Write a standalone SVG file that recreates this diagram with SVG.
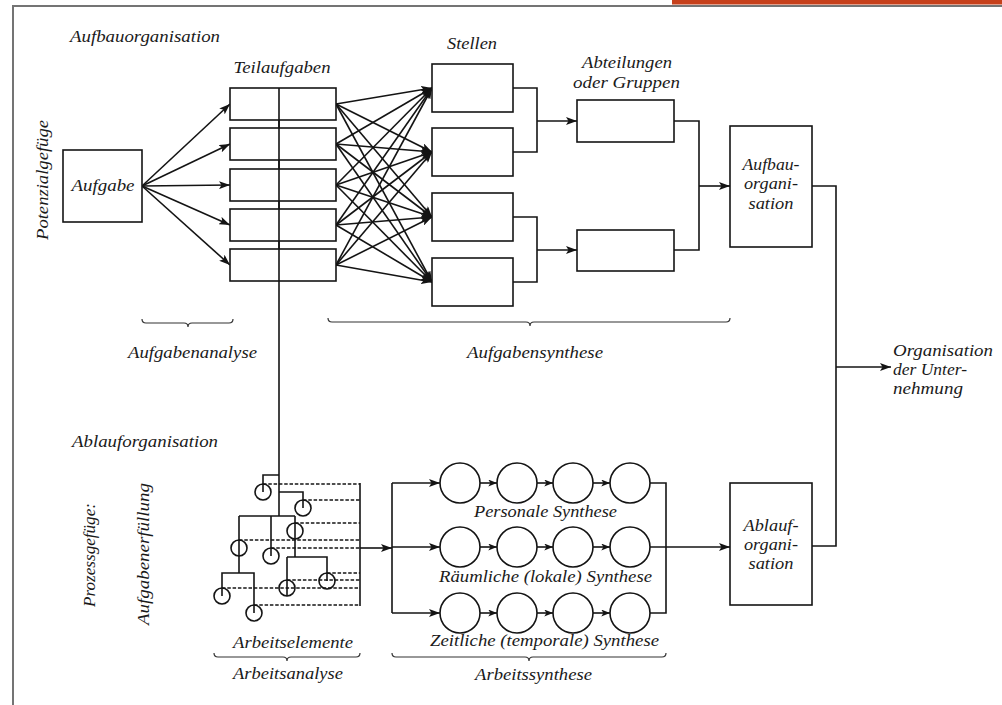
<svg xmlns="http://www.w3.org/2000/svg" width="1002" height="705" viewBox="0 0 1002 705">
<defs>
<style>
.ln{fill:none;stroke:#141414;stroke-width:1.6}
.bx{fill:#fff;stroke:#141414;stroke-width:1.6}
.ci{fill:none;stroke:#141414;stroke-width:1.6}
.ds{fill:none;stroke:#141414;stroke-width:1.5;stroke-dasharray:3.5 1.8}
.br{fill:none;stroke:#333;stroke-width:1.2}
.t{font-family:'Liberation Serif','DejaVu Serif',serif;font-style:italic;font-size:17px;fill:#1a1a1a}
.m{text-anchor:middle}
.ar{marker-end:url(#ah)}
.as{marker-end:url(#ahs)}
</style>
<marker id="ah" viewBox="0 0 11 8" refX="11" refY="4" markerWidth="11" markerHeight="8" markerUnits="userSpaceOnUse" orient="auto">
<path d="M0,0 L11,4 L0,8 L2.5,4 z" fill="#141414"/>
</marker>
<marker id="ahs" viewBox="0 0 10 8" refX="10" refY="4" markerWidth="9" markerHeight="7" markerUnits="userSpaceOnUse" orient="auto">
<path d="M0,0 L10,4 L0,8 L2.5,4 z" fill="#141414"/>
</marker>
</defs>
<rect width="1002" height="705" fill="#fff"/>
<g id="frame">
<rect x="672" y="0" width="330" height="4.5" fill="#C6401B"/>
<line x1="13" y1="6" x2="1002" y2="6" stroke="#747474" stroke-width="2"/>
<line x1="13" y1="5" x2="13" y2="705" stroke="#747474" stroke-width="2"/>
</g>
<g id="section-labels">
<text class="t" x="70" y="42" textLength="150" lengthAdjust="spacingAndGlyphs">Aufbauorganisation</text>
<text class="t" x="72" y="447" textLength="146" lengthAdjust="spacingAndGlyphs">Ablauforganisation</text>
<text class="t m" transform="translate(48,180) rotate(-90)" textLength="120" lengthAdjust="spacingAndGlyphs">Potenzialgefüge</text>
<text class="t m" transform="translate(95,555) rotate(-90)" textLength="104" lengthAdjust="spacingAndGlyphs">Prozessgefüge:</text>
<text class="t m" transform="translate(149,554) rotate(-90)" textLength="142" lengthAdjust="spacingAndGlyphs">Aufgabenerfüllung</text>
<text class="t m" x="282" y="73" textLength="97" lengthAdjust="spacingAndGlyphs">Teilaufgaben</text>
<text class="t m" x="472" y="49" textLength="50" lengthAdjust="spacingAndGlyphs">Stellen</text>
<text class="t m" x="627" y="68" textLength="90" lengthAdjust="spacingAndGlyphs">Abteilungen</text>
<text class="t m" x="626.5" y="88" textLength="107" lengthAdjust="spacingAndGlyphs">oder Gruppen</text>
</g>
<g id="connectors">
<path class="ln ar" d="M142,186 L230,104"/>
<path class="ln ar" d="M142,186 L230,144"/>
<path class="ln ar" d="M142,186 L230,185"/>
<path class="ln ar" d="M142,186 L230,225"/>
<path class="ln ar" d="M142,186 L230,265"/>
<path class="ln ar" d="M336,104 L432,88"/><path class="ln ar" d="M336,104 L432,152"/><path class="ln ar" d="M336,104 L432,217"/><path class="ln ar" d="M336,104 L432,282"/>
<path class="ln ar" d="M336,144 L432,88"/><path class="ln ar" d="M336,144 L432,152"/><path class="ln ar" d="M336,144 L432,217"/><path class="ln ar" d="M336,144 L432,282"/>
<path class="ln ar" d="M336,185 L432,88"/><path class="ln ar" d="M336,185 L432,152"/><path class="ln ar" d="M336,185 L432,217"/><path class="ln ar" d="M336,185 L432,282"/>
<path class="ln ar" d="M336,225 L432,88"/><path class="ln ar" d="M336,225 L432,152"/><path class="ln ar" d="M336,225 L432,217"/><path class="ln ar" d="M336,225 L432,282"/>
<path class="ln ar" d="M336,265 L432,88"/><path class="ln ar" d="M336,265 L432,152"/><path class="ln ar" d="M336,265 L432,217"/><path class="ln ar" d="M336,265 L432,282"/>
<path class="ln" d="M513,88 H537 V152 H513"/>
<path class="ln ar" d="M537,121 H577"/>
<path class="ln" d="M513,217 H537 V282 H513"/>
<path class="ln ar" d="M537,250 H577"/>
<path class="ln" d="M674,121 H699 V250 H674"/>
<path class="ln ar" d="M699,186 H730"/>
<path class="ln" d="M812,186 H836 V546 H812"/>
<path class="ln ar" d="M836,367 H891"/>
<path class="ln" d="M279,88 V516"/>
<path class="ln" d="M279,475 H263 V492"/>
<path class="ln" d="M279,492 H303 V508"/>
<path class="ln" d="M239,516 H295"/>
<path class="ln" d="M295,516 V557"/>
<path class="ln" d="M287,557 H327 V581"/>
<path class="ln" d="M287,557 V596"/>
<path class="ln" d="M239,516 V573"/>
<path class="ln" d="M222,596 V573 H254 V613"/>
<path class="ln" d="M271,516 V556"/>
<path class="ds" d="M263,484 H360"/>
<path class="ds" d="M303,500 H360"/>
<path class="ds" d="M295,523 H360"/>
<path class="ds" d="M239,540 H360"/>
<path class="ds" d="M271,548 H360"/>
<path class="ds" d="M327,573 H360"/>
<path class="ds" d="M287,580 H360"/>
<path class="ds" d="M222,588 H360"/>
<path class="ds" d="M254,605 H360"/>
<path class="ln" d="M360,483 V606"/>
<path class="ln ar" d="M360,548 H392"/>
<path class="ln" d="M392,483 V613"/>
<path class="ln ar" d="M392,483 H440"/>
<path class="ln ar" d="M392,547 H440"/>
<path class="ln ar" d="M392,613 H440"/>
<path class="ln as" d="M480,483 H497"/><path class="ln as" d="M537,483 H553"/><path class="ln as" d="M593,483 H610"/>
<path class="ln as" d="M480,547 H497"/><path class="ln as" d="M537,547 H553"/><path class="ln as" d="M593,547 H610"/>
<path class="ln as" d="M480,613 H497"/><path class="ln as" d="M537,613 H553"/><path class="ln as" d="M593,613 H610"/>
<path class="ln" d="M650,483 H666 V613 H650"/>
<path class="ln ar" d="M650,547 H730"/>
</g>
<g id="aufgabe">
<rect class="bx" x="63" y="150" width="79" height="72"/>
<text class="t m" x="103" y="191" textLength="63" lengthAdjust="spacingAndGlyphs">Aufgabe</text>
</g>
<g id="teilaufgaben">
<rect class="bx" x="230" y="88" width="106" height="32"/>
<rect class="bx" x="230" y="128" width="106" height="32"/>
<rect class="bx" x="230" y="169" width="106" height="32"/>
<rect class="bx" x="230" y="209" width="106" height="32"/>
<rect class="bx" x="230" y="249" width="106" height="32"/>
<line class="ln" x1="279" y1="88" x2="279" y2="281"/>
</g>
<g id="stellen">
<rect class="bx" x="432" y="64" width="81" height="48"/>
<rect class="bx" x="432" y="128" width="81" height="48"/>
<rect class="bx" x="432" y="193" width="81" height="48"/>
<rect class="bx" x="432" y="258" width="81" height="48"/>
</g>
<g id="abteilungen">
<rect class="bx" x="577" y="100" width="97" height="42"/>
<rect class="bx" x="577" y="230" width="97" height="41"/>
</g>
<g id="aufbauorganisation">
<rect class="bx" x="730" y="126" width="82" height="121"/>
<text class="t m" x="771" y="170" textLength="57" lengthAdjust="spacingAndGlyphs">Aufbau-</text>
<text class="t m" x="771" y="189" textLength="54" lengthAdjust="spacingAndGlyphs">organi-</text>
<text class="t m" x="771" y="209" textLength="45" lengthAdjust="spacingAndGlyphs">sation</text>
</g>
<g id="ablauforganisation">
<rect class="bx" x="730" y="483" width="82" height="122"/>
<text class="t m" x="771" y="531" textLength="55" lengthAdjust="spacingAndGlyphs">Ablauf-</text>
<text class="t m" x="771" y="550" textLength="54" lengthAdjust="spacingAndGlyphs">organi-</text>
<text class="t m" x="771" y="569" textLength="45" lengthAdjust="spacingAndGlyphs">sation</text>
</g>
<g id="organisation-der-unternehmung">
<text class="t" x="893" y="356" textLength="100" lengthAdjust="spacingAndGlyphs">Organisation</text>
<text class="t" x="893" y="375" textLength="74" lengthAdjust="spacingAndGlyphs">der Unter-</text>
<text class="t" x="893" y="394" textLength="70" lengthAdjust="spacingAndGlyphs">nehmung</text>
</g>
<g id="arbeitselemente">
<circle class="ci" cx="263" cy="492" r="8"/>
<circle class="ci" cx="303" cy="508" r="8"/>
<circle class="ci" cx="295" cy="531" r="8"/>
<circle class="ci" cx="239" cy="548" r="8"/>
<circle class="ci" cx="271" cy="556" r="8"/>
<circle class="ci" cx="327" cy="581" r="8"/>
<circle class="ci" cx="287" cy="588" r="8"/>
<circle class="ci" cx="222" cy="596" r="8"/>
<circle class="ci" cx="254" cy="613" r="8"/>
</g>
<g id="synthese">
<circle class="ci" cx="460" cy="483" r="20"/><circle class="ci" cx="517" cy="483" r="20"/><circle class="ci" cx="573" cy="483" r="20"/><circle class="ci" cx="630" cy="483" r="20"/>
<circle class="ci" cx="460" cy="547" r="20"/><circle class="ci" cx="517" cy="547" r="20"/><circle class="ci" cx="573" cy="547" r="20"/><circle class="ci" cx="630" cy="547" r="20"/>
<circle class="ci" cx="460" cy="613" r="20"/><circle class="ci" cx="517" cy="613" r="20"/><circle class="ci" cx="573" cy="613" r="20"/><circle class="ci" cx="630" cy="613" r="20"/>
<text class="t m" x="545.5" y="517" textLength="143" lengthAdjust="spacingAndGlyphs">Personale Synthese</text>
<text class="t m" x="545.5" y="582" textLength="213" lengthAdjust="spacingAndGlyphs">Räumliche (lokale) Synthese</text>
<text class="t m" x="544.5" y="646" textLength="229" lengthAdjust="spacingAndGlyphs">Zeitliche (temporale) Synthese</text>
</g>
<g id="braces">
<path class="br" d="M142,319 Q142,323 146,323 H184 Q188,323 188,327 Q188,323 192,323 H229 Q233,323 233,319"/>
<text class="t m" x="192.5" y="358" textLength="129" lengthAdjust="spacingAndGlyphs">Aufgabenanalyse</text>
<path class="br" d="M328,318 Q328,322 332,322 H526 Q530,322 530,326 Q530,322 534,322 H726 Q730,322 730,318"/>
<text class="t m" x="535" y="358" textLength="136" lengthAdjust="spacingAndGlyphs">Aufgabensynthese</text>
<text class="t m" x="293" y="648" textLength="120" lengthAdjust="spacingAndGlyphs">Arbeitselemente</text>
<path class="br" d="M214,653 Q214,657 218,657 H283 Q287,657 287,661 Q287,657 291,657 H356 Q360,657 360,653"/>
<text class="t m" x="288" y="679" textLength="110" lengthAdjust="spacingAndGlyphs">Arbeitsanalyse</text>
<path class="br" d="M392,653 Q392,657 396,657 H525 Q529,657 529,661 Q529,657 533,657 H662 Q666,657 666,653"/>
<text class="t m" x="533.5" y="680" textLength="117" lengthAdjust="spacingAndGlyphs">Arbeitssynthese</text>
</g>
</svg>
